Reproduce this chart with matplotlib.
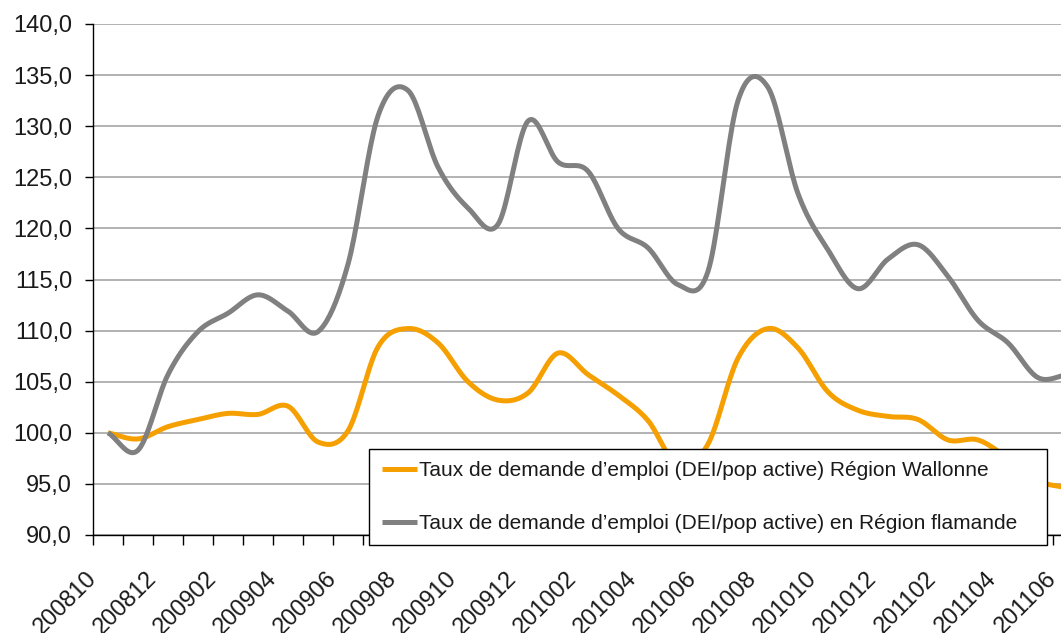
import numpy as np
import matplotlib.pyplot as plt
from matplotlib.transforms import ScaledTranslation

# Mois (catégories de l'axe X)
mois = ['200810', '200811', '200812',
        '200901', '200902', '200903', '200904', '200905', '200906',
        '200907', '200908', '200909', '200910', '200911', '200912',
        '201001', '201002', '201003', '201004', '201005', '201006',
        '201007', '201008', '201009', '201010', '201011', '201012',
        '201101', '201102', '201103', '201104', '201105', '201106']

# Indices (base 100 = 200810)
wallonie = [100.0, 99.4, 100.6, 101.3, 101.9, 101.8, 102.6, 99.1, 100.2,
            108.4, 110.2, 108.8, 105.0, 103.2, 103.9, 107.8, 105.7, 103.7,
            101.2, 96.8, 98.9, 107.3, 110.2, 108.3, 104.0, 102.2, 101.6,
            101.3, 99.3, 99.3, 97.5, 95.3, 94.6]
flandre = [100.0, 98.3, 105.7, 109.9, 111.7, 113.5, 111.9, 109.9, 116.5,
           131.0, 133.5, 126.0, 122.0, 120.4, 130.5, 126.5, 125.6, 120.0,
           118.1, 114.5, 115.8, 132.5, 133.8, 123.4, 117.9, 114.1, 117.0,
           118.4, 115.3, 111.0, 108.8, 105.4, 105.7]

libelles = ['Taux de demande d’emploi (DEI/pop active) Région Wallonne',
            'Taux de demande d’emploi (DEI/pop active) en Région flamande']
graduations_y = [90, 95, 100, 105, 110, 115, 120, 125, 130, 135, 140]


# Courbe lissée (style "ligne lissée" d'Excel, spline de Catmull-Rom)
def lisser(valeurs, pas=20):
    v = np.asarray(valeurs, dtype=float)
    p = np.concatenate([[2 * v[0] - v[1]], v, [2 * v[-1] - v[-2]]])
    t = np.linspace(0, 1, pas, endpoint=False)
    xs, ys = [], []
    for i in range(len(v) - 1):
        p0, p1, p2, p3 = p[i:i + 4]
        y = 0.5 * (2 * p1 + (-p0 + p2) * t
                   + (2 * p0 - 5 * p1 + 4 * p2 - p3) * t ** 2
                   + (-p0 + 3 * p1 - 3 * p2 + p3) * t ** 3)
        xs.append(i + t)
        ys.append(y)
    xs.append([len(v) - 1])
    ys.append([v[-1]])
    return np.concatenate(xs), np.concatenate(ys)


fig = plt.figure(figsize=(10.61, 6.33), dpi=100)
ax = fig.add_axes([93 / 1061, 1 - 535 / 633, 1 - 93 / 1061, (535 - 24) / 633])

x_w, y_w = lisser(wallonie)
x_f, y_f = lisser(flandre)
ax.plot(x_w, y_w, color='#f5a000', lw=3.6, label=libelles[0], zorder=3,
        solid_capstyle='butt')
ax.plot(x_f, y_f, color='#808080', lw=3.6, label=libelles[1], zorder=4,
        solid_capstyle='butt')

# Axes
ax.set_ylim(90, 140)
ax.set_xlim(-0.5, (1061 - 93) / 30 - 0.5)
ax.set_yticks(graduations_y)
ax.set_yticklabels([f'{v:.1f}'.replace('.', ',') for v in graduations_y],
                   family='Liberation Sans', fontsize=17, color='#1a1a1a')
ax.yaxis.grid(True, color='#a6a6a6', lw=1.2)
ax.set_axisbelow(True)

pos = np.arange(len(mois)) - 0.5
ax.set_xticks(pos)
ax.set_xticklabels([m if i % 2 == 0 else '' for i, m in enumerate(mois)],
                   rotation=45, ha='right', va='center', rotation_mode='anchor',
                   family='Liberation Sans', fontsize=17, color='#1a1a1a')
decal = ScaledTranslation(-7 / 100, 0, fig.dpi_scale_trans)
for lab in ax.get_xticklabels():
    lab.set_transform(lab.get_transform() + decal)

ax.tick_params(axis='y', direction='out', length=6, width=1, pad=9)
ax.tick_params(axis='x', direction='out', length=7, width=1, pad=22)
for s in ['top', 'right']:
    ax.spines[s].set_visible(False)
for s in ['left', 'bottom']:
    ax.spines[s].set_color('black')
    ax.spines[s].set_linewidth(1.0)

# Légende
leg = fig.legend(loc='upper left',
                 bbox_to_anchor=(369 / 1061, 1 - 547 / 633, 678 / 1061, 98 / 633),
                 mode='expand', borderaxespad=0, fancybox=False, shadow=False,
                 framealpha=1, edgecolor='black', handlelength=1.7,
                 handletextpad=0.1, borderpad=0.6, labelspacing=1.6,
                 prop={'family': 'Liberation Sans', 'size': 15})
leg.get_frame().set_linewidth(1.0)
leg.set_zorder(10)
for txt in leg.get_texts():
    txt.set_color('#1a1a1a')

fig.savefig('out.png', dpi=100)
